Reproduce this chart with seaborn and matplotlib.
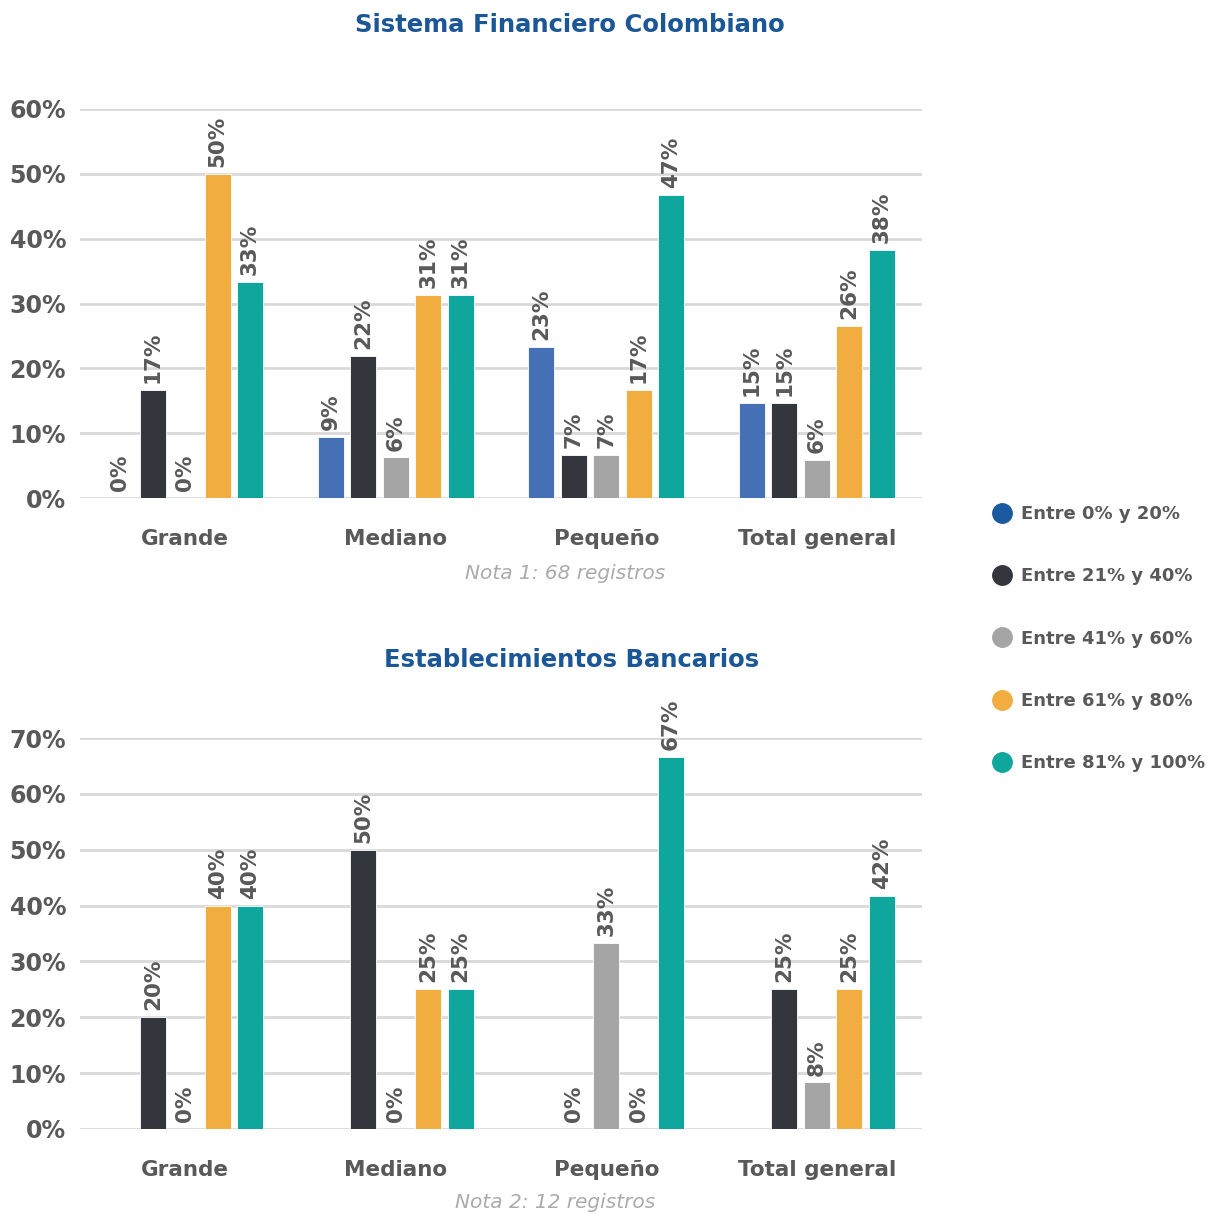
import matplotlib
matplotlib.use("Agg")
import matplotlib.pyplot as plt
from matplotlib.lines import Line2D
from matplotlib.ticker import FuncFormatter
import numpy as np
import pandas as pd
import seaborn as sns

# ---- data ----
categories = ["Grande", "Mediano", "Pequeño", "Total general"]
ranges = ["Entre 0% y 20%", "Entre 21% y 40%", "Entre 41% y 60%",
          "Entre 61% y 80%", "Entre 81% y 100%"]

# Sistema Financiero Colombiano (% per category, by range)
sfc_0_20 = [0.0, 9.38, 23.33, 14.71]
sfc_21_40 = [16.67, 21.88, 6.67, 14.71]
sfc_41_60 = [0.0, 6.25, 6.67, 5.88]
sfc_61_80 = [50.0, 31.25, 16.67, 26.47]
sfc_81_100 = [33.33, 31.25, 46.67, 38.24]

# Establecimientos Bancarios
eb_0_20 = [np.nan, np.nan, np.nan, np.nan]
eb_21_40 = [20.0, 50.0, 0.0, 25.0]
eb_41_60 = [0.0, 0.0, 33.33, 8.33]
eb_61_80 = [40.0, 25.0, 0.0, 25.0]
eb_81_100 = [40.0, 25.0, 66.67, 41.67]

bar_colors = ["#4570b6", "#33363d", "#a5a5a5", "#f1ad3f", "#0ea69d"]
legend_colors = ["#1c5aa0", "#33363d", "#a5a5a5", "#f1ad3f", "#0ea69d"]

titles = ["Sistema Financiero Colombiano", "Establecimientos Bancarios"]
notes = ["Nota 1: 68 registros", "Nota 2: 12 registros"]


def long_df(series):
    rows = []
    for rng, vals in zip(ranges, series):
        for cat, v in zip(categories, vals):
            rows.append({"cat": cat, "range": rng, "value": v})
    return pd.DataFrame(rows)


df_top = long_df([sfc_0_20, sfc_21_40, sfc_41_60, sfc_61_80, sfc_81_100])
df_bot = long_df([eb_0_20, eb_21_40, eb_41_60, eb_61_80, eb_81_100])

sns.set_theme(style="white")
plt.rcParams["font.family"] = ["DejaVu Sans"]

TXT = "#595959"
W, H = 1212, 1215
fig = plt.figure(figsize=(W / 100, H / 100), dpi=100)

ax1 = fig.add_axes([80 / W, 1 - 498 / H, 842 / W, 389 / H])
ax2 = fig.add_axes([80 / W, 1 - 1129 / H, 842 / W, 391 / H])


def draw(ax, df, ymax):
    sns.barplot(data=df, x="cat", y="value", hue="range", order=categories,
                hue_order=ranges, palette=bar_colors, width=0.77, gap=0.2,
                errorbar=None, legend=False, ax=ax, saturation=1,
                edgecolor="white", linewidth=0.6)
    ax.set_ylim(0, ymax)
    ax.set_xlim(-0.5, 3.5)
    ax.set_yticks(np.arange(0, ymax + 1, 10))
    ax.yaxis.set_major_formatter(FuncFormatter(lambda v, p: f"{v:.0f}%"))
    ax.yaxis.grid(True, color="#d9d9d9", linewidth=2)
    ax.set_axisbelow(True)
    for s in ax.spines.values():
        s.set_visible(False)
    ax.tick_params(axis="y", length=0, pad=10, labelsize=17, labelcolor=TXT)
    ax.tick_params(axis="x", length=0, pad=22, labelsize=15.5, labelcolor=TXT)
    for lab in ax.get_yticklabels() + ax.get_xticklabels():
        lab.set_fontweight("bold")
    ax.set_xlabel("")
    ax.set_ylabel("")
    for c in ax.containers:
        vals = [v for v in c.datavalues]
        labels = ["" if np.isnan(v) else f"{round(v):.0f}%" for v in vals]
        ax.bar_label(c, labels=labels, rotation=90, padding=5, fontsize=15.5,
                     fontweight="bold", color=TXT)


draw(ax1, df_top, 60)
draw(ax2, df_bot, 70)

TITLE_C = "#1b5797"
fig.text(570 / W, 1 - 25 / H, titles[0], ha="center", va="center",
         fontsize=17.5, fontweight="bold", color=TITLE_C)
fig.text(572 / W, 1 - 660 / H, titles[1], ha="center", va="center",
         fontsize=17.5, fontweight="bold", color=TITLE_C)
fig.text(565 / W, 1 - 573 / H, notes[0], ha="center", va="center",
         fontsize=14.5, style="italic", color="#ababab")
fig.text(555 / W, 1 - 1203 / H, notes[1], ha="center", va="center",
         fontsize=14.5, style="italic", color="#ababab")

handles = [Line2D([], [], marker="o", linestyle="", markersize=14,
                  markerfacecolor=c, markeredgecolor=c) for c in legend_colors]
leg = fig.legend(handles, ranges, loc="upper left",
                 bbox_to_anchor=(977 / W, 1 - 498 / H), frameon=False,
                 labelspacing=2.45, handletextpad=0.05, borderaxespad=0,
                 prop={"size": 13, "weight": "bold"})
for t in leg.get_texts():
    t.set_color(TXT)

fig.savefig("out.png", dpi=100)
